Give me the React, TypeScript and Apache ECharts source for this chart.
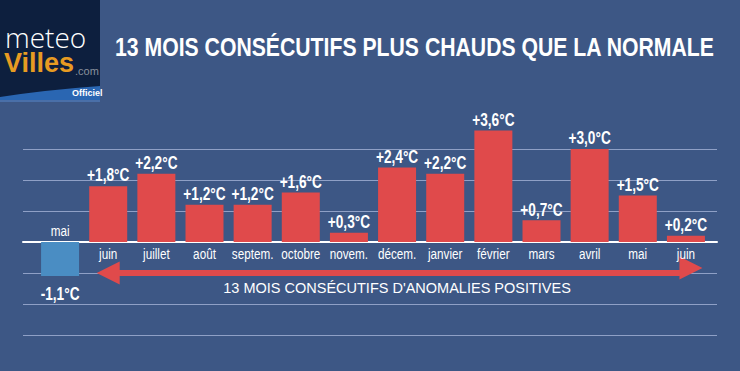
import React, { useEffect, useRef } from "react";
import * as echarts from "echarts";

const months = ["mai", "juin", "juillet", "août", "septem.", "octobre", "novem.", "décem.", "janvier", "février", "mars", "avril", "mai", "juin"];
const anomalies = [-1.1, 1.8, 2.2, 1.2, 1.2, 1.6, 0.3, 2.4, 2.2, 3.6, 0.7, 3.0, 1.5, 0.2];
const yMin = -3;
const yMax = 3;
const yStep = 1;
const arrowFrom = 1;
const arrowTo = 13;
const arrowLevel = -1;
const titleText = "13 MOIS CONSÉCUTIFS PLUS CHAUDS QUE LA NORMALE";
const arrowText = "13 MOIS CONSÉCUTIFS D'ANOMALIES POSITIVES";

const RED = "#e04a4b";
const BLUE = "#4a8dc3";
const GRID = "#8fa0c6";
const SANS = "'Liberation Sans', Arial, sans-serif";

function fmt(v: number) {
  const s = Math.abs(v).toFixed(1).replace(".", ",");
  return (v > 0 ? "+" : v < 0 ? "-" : "") + s + "°C";
}

function measure(text: string, font: string) {
  const c = document.createElement("canvas").getContext("2d");
  if (!c) return text.length * 14;
  c.font = font;
  return c.measureText(text).width;
}

export default function App() {
  const ref = useRef<HTMLDivElement>(null);
  useEffect(() => {
    if (!ref.current) return;
    echarts.graphic.registerShape(
      "swoosh",
      echarts.graphic.extendPath("M0 100 L0 97 Q45 90 100 86 L100 100 Z", {}) as any
    );
    const chart = echarts.init(ref.current, null, { renderer: "svg" });
    const titleFont = `bold 26px ${SANS}`;
    const titleScale = 600 / measure(titleText, titleFont);
    const barData = anomalies.map((v, i) => (i === 0 ? { value: v, itemStyle: { color: BLUE } } : { value: v }));

    const renderLabels = (params: any, api: any) => {
      const i = params.dataIndex;
      const v = api.value(1);
      const end = api.coord([i, v]);
      const zero = api.coord([i, 0]);
      const pos = v >= 0;
      return {
        type: "group",
        children: [
          {
            type: "text",
            x: end[0],
            y: pos ? end[1] - 2 : end[1] + 9,
            scaleX: 0.76,
            style: {
              text: fmt(v),
              fill: "#ffffff",
              font: `bold 18px ${SANS}`,
              align: "center",
              verticalAlign: pos ? "bottom" : "top",
            },
          },
          {
            type: "text",
            x: zero[0],
            y: pos ? zero[1] + 12 : zero[1] - 11,
            scaleX: 0.78,
            style: {
              text: months[i],
              fill: "#ffffff",
              font: `15px ${SANS}`,
              align: "center",
              verticalAlign: "middle",
            },
          },
        ],
      };
    };

    chart.setOption({
      animation: false,
      backgroundColor: "#3d5785",
      graphic: [
        { type: "rect", left: 0, top: 0, shape: { width: 100, height: 100 }, style: { fill: "#0d1f3e" }, z: 10 },
        { type: "rect", left: 0, top: 100, shape: { width: 100, height: 2 }, style: { fill: "#4a6fa8" }, z: 10 },
        { type: "swoosh", x: 0, y: 0, style: { fill: "#2a66b2" }, z: 11 },
        {
          type: "text",
          x: 5,
          y: 25,
          style: {
            text: "{a|meteo}\n{b|Villes}",
            verticalAlign: "top",
            rich: {
              a: { fill: "#ffffff", font: "300 28px 'Open Sans', sans-serif", lineHeight: 24, padding: [0, 0, 0, 0] },
              b: { fill: "#e79b22", font: `bold 27px ${SANS}`, lineHeight: 28, padding: [0, 0, 0, -1] },
            },
          },
          z: 12,
        },
        { type: "text", left: 75, top: 65, style: { text: ".com", fill: "#8a909c", font: `11px ${SANS}` }, z: 12 },
        { type: "text", left: 72, top: 88, style: { text: "Officiel", fill: "#ffffff", font: `bold 9px ${SANS}` }, z: 12 },
        {
          type: "text",
          x: 115,
          y: 47,
          scaleX: titleScale,
          style: {
            text: titleText,
            fill: "#ffffff",
            font: titleFont,
            verticalAlign: "middle",
          },
          z: 12,
        },
      ],
      grid: [
        { left: 23, right: 23, top: 149, bottom: 36 },
        { left: 36, right: 30, top: 149, bottom: 36 },
      ],
      xAxis: [
        {
          gridIndex: 0,
          type: "value",
          min: 0,
          max: 1,
          axisLine: { show: true, onZero: true, lineStyle: { color: "#ffffff", width: 2 } },
          axisTick: { show: false },
          axisLabel: { show: false },
          splitLine: { show: false },
        },
        {
          gridIndex: 1,
          type: "category",
          data: months,
          axisLine: { show: false },
          axisTick: { show: false },
          axisLabel: { show: false },
        },
      ],
      yAxis: [
        {
          gridIndex: 0,
          type: "value",
          min: yMin,
          max: yMax,
          interval: yStep,
          axisLine: { show: false },
          axisTick: { show: false },
          axisLabel: { show: false },
          splitLine: { show: true, lineStyle: { color: GRID, width: 1 } },
        },
        {
          gridIndex: 1,
          type: "value",
          min: yMin,
          max: yMax,
          interval: yStep,
          axisLine: { show: false },
          axisTick: { show: false },
          axisLabel: { show: false },
          splitLine: { show: false },
        },
      ],
      series: [
        {
          type: "bar",
          xAxisIndex: 1,
          yAxisIndex: 1,
          data: barData,
          barWidth: 38,
          clip: false,
          itemStyle: { color: RED },
          silent: true,
          markLine: {
            silent: true,
            symbol: ["triangle", "triangle"],
            symbolSize: [23, 23],
            symbolOffset: [0, -5],
            lineStyle: { color: RED, width: 6, type: "solid" },
            label: {
              show: true,
              position: "insideMiddleBottom",
              distance: 7,
              color: "#ffffff",
              fontFamily: SANS,
              fontSize: 14.5,
              formatter: arrowText,
            },
            emphasis: { disabled: true },
            data: [[{ coord: [arrowFrom, arrowLevel] }, { coord: [arrowTo, arrowLevel] }]],
          },
        },
        {
          type: "custom",
          xAxisIndex: 1,
          yAxisIndex: 1,
          data: anomalies.map((v, i) => [i, v]),
          encode: { x: 0, y: 1 },
          renderItem: renderLabels,
          silent: true,
          clip: false,
          z: 5,
        },
      ],
    });
    return () => chart.dispose();
  }, []);
  return <div ref={ref} style={{ position: "fixed", left: 0, top: 0, width: 740, height: 371 }} />;
}
